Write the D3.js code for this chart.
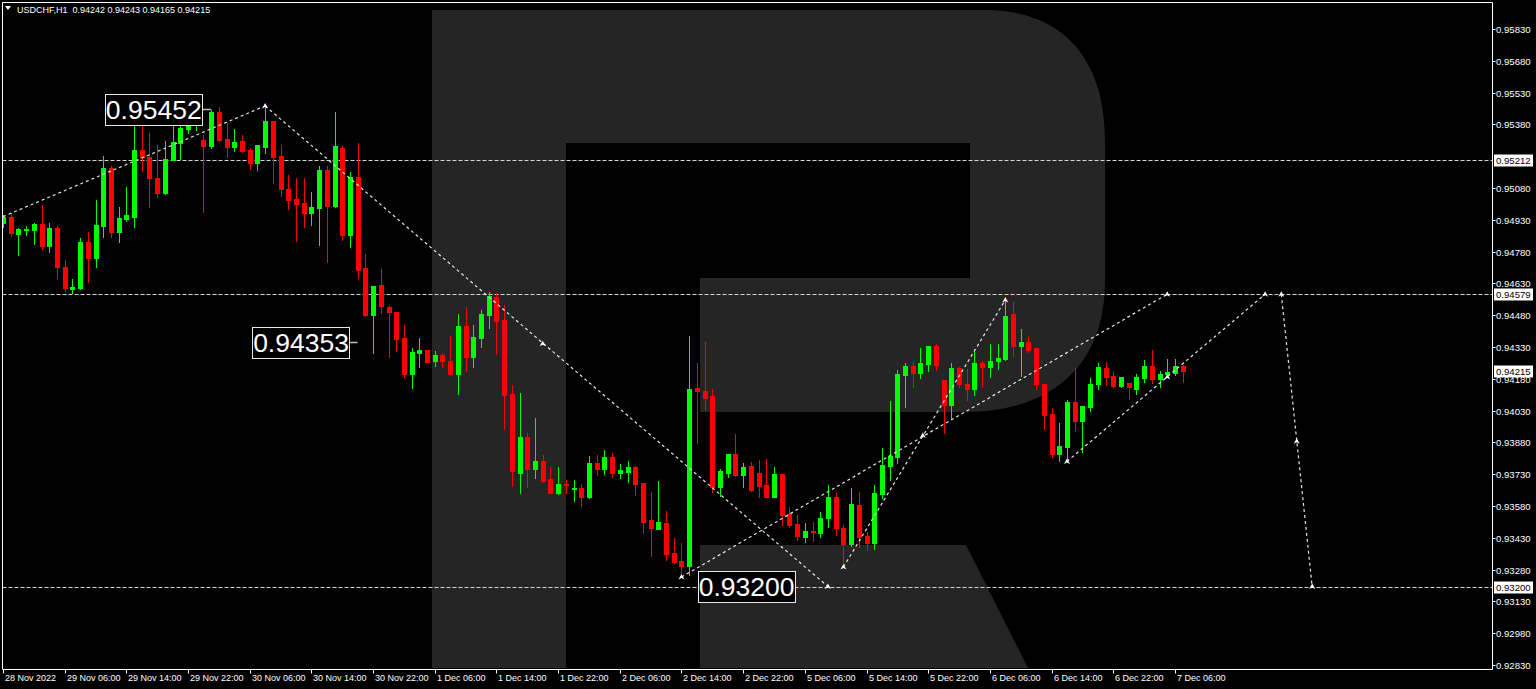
<!DOCTYPE html>
<html><head><meta charset="utf-8">
<script src="https://cdn.jsdelivr.net/npm/d3@7/dist/d3.min.js"></script>
<style>html,body{margin:0;padding:0;background:#000;overflow:hidden}</style>
</head><body>
<svg id="chart" width="1536" height="689"></svg>
<script>
// ---------------- DATA ----------------
const symbolTitle = "USDCHF,H1";
const lastQuote = [0.94242, 0.94243, 0.94165, 0.94215];
const opens = [0.94914,0.94943,0.94863,0.94882,0.94882,0.94910,0.94806,0.94891,0.94709,0.94604,0.94608,0.94825,0.94751,0.94901,0.95174,0.94874,0.94934,0.94945,0.95259,0.95226,0.95129,0.95056,0.95212,0.95292,0.95360,0.95385,0.95306,0.95278,0.95440,0.95309,0.95272,0.95302,0.95259,0.95198,0.95275,0.95396,0.95231,0.95073,0.95027,0.95011,0.94961,0.94987,0.95165,0.94995,0.95267,0.94858,0.95130,0.94704,0.94481,0.94622,0.94520,0.94497,0.94371,0.94203,0.94303,0.94316,0.94265,0.94292,0.94265,0.94203,0.94429,0.94284,0.94374,0.94480,0.94567,0.94457,0.94107,0.93734,0.93907,0.93755,0.93792,0.93707,0.93643,0.93684,0.93658,0.93665,0.93624,0.93784,0.93753,0.93813,0.93734,0.93742,0.93765,0.93690,0.93514,0.93470,0.93501,0.93357,0.93321,0.93297,0.94135,0.94123,0.94099,0.93671,0.93737,0.93825,0.93726,0.93769,0.93737,0.93679,0.93624,0.93731,0.93542,0.93494,0.93435,0.93462,0.93454,0.93522,0.93624,0.93475,0.93399,0.93585,0.93439,0.93404,0.93635,0.93769,0.93813,0.94198,0.94240,0.94207,0.94252,0.94333,0.94174,0.94056,0.94230,0.94155,0.94131,0.94256,0.94234,0.94264,0.94273,0.94486,0.94335,0.94355,0.94324,0.94155,0.94014,0.93824,0.93857,0.94069,0.93982,0.94046,0.94155,0.94232,0.94193,0.94146,0.94159,0.94131,0.94185,0.94240,0.94177,0.94203,0.94206,0.94242];
const highs = [0.94953,0.94962,0.94889,0.94901,0.94916,0.95000,0.94915,0.94901,0.94740,0.94651,0.94844,0.94873,0.95023,0.95231,0.95184,0.94992,0.95086,0.95382,0.95448,0.95341,0.95283,0.95302,0.95393,0.95387,0.95424,0.95434,0.95330,0.95448,0.95464,0.95387,0.95358,0.95330,0.95270,0.95285,0.95467,0.95398,0.95283,0.95141,0.95126,0.95126,0.95063,0.95184,0.95184,0.95440,0.95278,0.95157,0.95291,0.94769,0.94620,0.94696,0.94523,0.94497,0.94434,0.94324,0.94374,0.94318,0.94311,0.94303,0.94382,0.94484,0.94520,0.94434,0.94505,0.94591,0.94586,0.94528,0.94151,0.94112,0.93923,0.93994,0.93821,0.93765,0.93762,0.93703,0.93703,0.93684,0.93816,0.93821,0.93844,0.93832,0.93778,0.93792,0.93768,0.93690,0.93648,0.93698,0.93556,0.93428,0.93407,0.94382,0.94256,0.94355,0.94131,0.93753,0.93827,0.93920,0.93781,0.93789,0.93797,0.93800,0.93765,0.93733,0.93577,0.93538,0.93501,0.93506,0.93553,0.93679,0.93640,0.93490,0.93664,0.93645,0.93459,0.93679,0.93852,0.94077,0.94222,0.94253,0.94262,0.94324,0.94335,0.94344,0.94176,0.94253,0.94234,0.94224,0.94319,0.94264,0.94343,0.94343,0.94552,0.94544,0.94414,0.94382,0.94326,0.94157,0.94044,0.93973,0.94080,0.94230,0.94054,0.94182,0.94253,0.94261,0.94213,0.94190,0.94161,0.94201,0.94269,0.94316,0.94218,0.94273,0.94273,0.94243];
const lows = [0.94898,0.94855,0.94764,0.94858,0.94816,0.94792,0.94778,0.94656,0.94594,0.94585,0.94604,0.94637,0.94707,0.94850,0.94849,0.94827,0.94924,0.94898,0.95162,0.94992,0.95038,0.95052,0.95210,0.95217,0.95341,0.95354,0.94968,0.95267,0.95302,0.95228,0.95255,0.95251,0.95170,0.95165,0.95247,0.95105,0.95042,0.94980,0.94831,0.94895,0.94906,0.94811,0.94732,0.94992,0.94835,0.94803,0.94654,0.94478,0.94300,0.94492,0.94284,0.94313,0.94190,0.94138,0.94234,0.94258,0.94240,0.94234,0.94198,0.94108,0.94217,0.94234,0.94329,0.94421,0.94297,0.93942,0.93674,0.93643,0.93668,0.93711,0.93695,0.93640,0.93637,0.93640,0.93604,0.93580,0.93616,0.93726,0.93731,0.93718,0.93711,0.93693,0.93632,0.93454,0.93344,0.93470,0.93325,0.93313,0.93250,0.93255,0.93876,0.94033,0.93648,0.93627,0.93718,0.93722,0.93668,0.93652,0.93621,0.93622,0.93622,0.93490,0.93482,0.93420,0.93410,0.93416,0.93432,0.93480,0.93443,0.93291,0.93391,0.93388,0.93373,0.93377,0.93616,0.93703,0.93781,0.94048,0.94143,0.94186,0.94218,0.94222,0.93926,0.93994,0.94143,0.94080,0.94104,0.94143,0.94190,0.94224,0.94268,0.94288,0.94195,0.94308,0.94131,0.93943,0.93813,0.93792,0.93797,0.93939,0.93836,0.94030,0.94131,0.94151,0.94140,0.94140,0.94085,0.94108,0.94166,0.94161,0.94140,0.94190,0.94198,0.94165];
const closes = [0.94945,0.94869,0.94887,0.94887,0.94910,0.94806,0.94891,0.94707,0.94606,0.94613,0.94825,0.94751,0.94906,0.95174,0.94873,0.94940,0.94953,0.95259,0.95228,0.95129,0.95056,0.95217,0.95297,0.95364,0.95391,0.95404,0.95278,0.95440,0.95306,0.95272,0.95297,0.95255,0.95199,0.95283,0.95396,0.95228,0.95073,0.95023,0.95005,0.94961,0.94992,0.95165,0.94995,0.95278,0.94858,0.95130,0.94693,0.94481,0.94618,0.94523,0.94497,0.94366,0.94203,0.94308,0.94316,0.94261,0.94292,0.94265,0.94203,0.94429,0.94284,0.94379,0.94484,0.94571,0.94453,0.94104,0.93747,0.93907,0.93753,0.93792,0.93698,0.93643,0.93684,0.93678,0.93665,0.93624,0.93784,0.93753,0.93813,0.93734,0.93750,0.93765,0.93684,0.93506,0.93475,0.93503,0.93354,0.93317,0.93297,0.94131,0.94123,0.94091,0.93668,0.93747,0.93825,0.93725,0.93765,0.93656,0.93674,0.93624,0.93731,0.93538,0.93490,0.93440,0.93462,0.93456,0.93522,0.93624,0.93475,0.93399,0.93589,0.93435,0.93404,0.93643,0.93773,0.93816,0.94201,0.94242,0.94207,0.94256,0.94333,0.94245,0.94056,0.94230,0.94154,0.94131,0.94253,0.94234,0.94264,0.94277,0.94478,0.94335,0.94352,0.94316,0.94155,0.94009,0.93825,0.93864,0.94069,0.93982,0.94052,0.94155,0.94234,0.94190,0.94146,0.94187,0.94140,0.94187,0.94240,0.94177,0.94203,0.94211,0.94240,0.94215];

const priceTicks = [0.95830,0.95680,0.95530,0.95380,0.95080,0.94930,0.94780,0.94630,0.94480,0.94330,0.94180,0.94030,0.93880,0.93730,0.93580,0.93430,0.93280,0.93130,0.92980,0.92830];
const timeTickIndex = [0,8,16,24,32,40,48,56,64,72,80,88,96,104,112,120,128,136,144,152];
const timeTickLabels = ["28 Nov 2022","29 Nov 06:00","29 Nov 14:00","29 Nov 22:00","30 Nov 06:00","30 Nov 14:00","30 Nov 22:00","1 Dec 06:00","1 Dec 14:00","1 Dec 22:00","2 Dec 06:00","2 Dec 14:00","2 Dec 22:00","5 Dec 06:00","5 Dec 14:00","5 Dec 22:00","6 Dec 06:00","6 Dec 14:00","6 Dec 22:00","7 Dec 06:00"];

const levelPrices = [0.95212, 0.94579, 0.93200];
const currentPrice = 0.94215;

// trend lines: [barIndex1, price1, barIndex2, price2]
const trendLines = [
  [0, 0.94945, 34, 0.95467],
  [34, 0.95467, 107, 0.93200],
  [88, 0.93245, 151, 0.94579],
  [109, 0.93292, 130, 0.94552],
  [138, 0.93790, 163.7, 0.94579],
  [165.8, 0.94579, 169.8, 0.93200]
];
// arrow markers: [barIndex, price]
const markerPoints = [
  [34, 0.95467],[70, 0.94345],[107, 0.93200],[88, 0.93245],[151, 0.94579],
  [109, 0.93292],[119.3, 0.93912],[130, 0.94552],[138, 0.93790],[151, 0.94189],
  [163.7, 0.94579],[165.8, 0.94579],[167.8, 0.93886],[169.8, 0.93200]
];
// price text labels: value, bar index of box left edge, connector end index (null = none)
const labelValues = [0.95452, 0.94353, 0.93200];
const labelLeftIndex = [13.2, 32.3, 90.1];
const labelConnectorEnd = [27.0, 46.0, null];

// ---------------- DRAW ----------------
const svg = d3.select("#chart");
const W = 1536, H = 689;
const plotL = 2.5, plotR = 1492.5, plotT = 2.5, plotB = 669.5;

const x = d3.scaleLinear().domain([0, 1]).range([3, 10.71]);
const y = d3.scaleLinear().domain([0.95830, 0.92830]).range([29, 665]);

svg.append("rect").attr("width", W).attr("height", H).attr("fill", "#000");

// watermark R
const wm = svg.append("g").attr("fill", "#252525");
wm.append("path").attr("d",
  "M432,10 H985 C1062,10 1105,58 1105,140 V282 C1105,362 1055,412 965,412 H700 V278 H970 V143 H566 V668 H432 Z");
wm.append("path").attr("d", "M700,545 H966 L1028,668 H700 Z");

const plot = svg.append("g");
const clip = svg.append("clipPath").attr("id", "pc");
clip.append("rect").attr("x", plotL).attr("y", plotT).attr("width", plotR - plotL).attr("height", plotB - plotT);
plot.attr("clip-path", "url(#pc)");

// horizontal levels
plot.selectAll("line.lvl").data(levelPrices).enter().append("line")
  .attr("x1", plotL).attr("x2", plotR)
  .attr("y1", d => Math.round(y(d)) + 0.5).attr("y2", d => Math.round(y(d)) + 0.5)
  .attr("stroke", "#d4d4d4").attr("stroke-width", 1).attr("stroke-dasharray", "4,2");

// candles
const bars = d3.range(opens.length).map(i => ({i, o: opens[i], h: highs[i], l: lows[i], c: closes[i]}));
const cg = plot.append("g");
bars.forEach(b => {
  const cx = Math.round(x(b.i));
  const col = b.c >= b.o ? "#00ff00" : "#ff0000";
  cg.append("line").attr("x1", cx + 0.5).attr("x2", cx + 0.5)
    .attr("y1", Math.round(y(b.h))).attr("y2", Math.round(y(b.l)) + 1)
    .attr("stroke", col).attr("stroke-width", 1);
  const yt = Math.round(y(Math.max(b.o, b.c)));
  const yb = Math.round(y(Math.min(b.o, b.c)));
  cg.append("rect").attr("x", cx - 2).attr("width", 5)
    .attr("y", yt).attr("height", Math.max(1, yb - yt + 1)).attr("fill", col);
});

// trend lines
plot.selectAll("line.tr").data(trendLines).enter().append("line")
  .attr("x1", d => x(d[0])).attr("y1", d => y(d[1]))
  .attr("x2", d => x(d[2])).attr("y2", d => y(d[3]))
  .attr("stroke", "#e6e6e6").attr("stroke-width", 1.2).attr("stroke-dasharray", "3,3");

// markers
plot.selectAll("path.mk").data(markerPoints).enter().append("path")
  .attr("transform", d => `translate(${x(d[0])},${y(d[1])})`)
  .attr("d", "M-3,2.5 L0,-3 L3,2.5 L0,1 Z").attr("fill", "#ffffff");

// text labels
labelValues.forEach((v, k) => {
  const bx = x(labelLeftIndex[k]);
  const cy = y(v);
  const bw = 97, bh = 31;
  if (labelConnectorEnd[k] !== null) {
    plot.append("line").attr("x1", bx + bw).attr("x2", x(labelConnectorEnd[k]))
      .attr("y1", Math.round(cy) + 0.5).attr("y2", Math.round(cy) + 0.5)
      .attr("stroke", "#bfbfbf").attr("stroke-width", 1.5);
  }
  plot.append("rect").attr("x", Math.round(bx) + 0.5).attr("y", Math.round(cy - bh / 2) + 0.5)
    .attr("width", bw).attr("height", bh).attr("fill", "#000").attr("stroke", "#e8e8e8").attr("stroke-width", 1);
  plot.append("text").attr("x", bx + bw / 2 + 0.5).attr("y", cy + 9.5)
    .attr("text-anchor", "middle").attr("font-family", "Liberation Sans, Arial, sans-serif")
    .attr("font-size", 26.5).attr("fill", "#ffffff").text(v.toFixed(5));
});

// frame
svg.append("path").attr("d", `M${plotL},${plotT} H${plotR} V${plotB} H${plotL} Z`)
  .attr("fill", "none").attr("stroke", "#ffffff").attr("stroke-width", 1);

// price axis
const pa = svg.append("g").attr("font-family", "Liberation Sans, Arial, sans-serif").attr("font-size", 9.6).attr("fill", "#ffffff");
priceTicks.forEach(p => {
  const yy = Math.round(y(p)) + 0.5;
  pa.append("line").attr("x1", plotR).attr("x2", plotR + 3).attr("y1", yy).attr("y2", yy).attr("stroke", "#ffffff");
  pa.append("text").attr("x", 1496).attr("y", yy + 3.5).text(p.toFixed(5));
});
const hl = levelPrices.concat([currentPrice]);
hl.forEach(p => {
  const yy = Math.round(y(p)) + 0.5;
  pa.append("rect").attr("x", 1494).attr("y", yy - 6).attr("width", 39).attr("height", 12).attr("fill", "#ffffff");
  pa.append("text").attr("x", 1496).attr("y", yy + 3.5).attr("fill", "#000000").text(p.toFixed(5));
});

// time axis
const ta = svg.append("g").attr("font-family", "Liberation Sans, Arial, sans-serif").attr("font-size", 9).attr("fill", "#ffffff");
timeTickIndex.forEach((ti, k) => {
  const xx = Math.round(x(ti)) + 0.5;
  ta.append("line").attr("x1", xx).attr("x2", xx).attr("y1", plotB).attr("y2", plotB + 4).attr("stroke", "#ffffff");
  ta.append("text").attr("x", xx + 1.5).attr("y", 681).text(timeTickLabels[k]);
});

// header
svg.append("path").attr("d", "M5,6 H11 L8,10 Z").attr("fill", "#ffffff");
svg.append("text").attr("x", 17).attr("y", 12.5).attr("font-family", "Liberation Sans, Arial, sans-serif")
  .attr("font-size", 9).attr("fill", "#ffffff").attr("xml:space", "preserve")
  .text(symbolTitle + "  " + lastQuote.map(v => v.toFixed(5)).join(" "));
</script>
</body></html>
